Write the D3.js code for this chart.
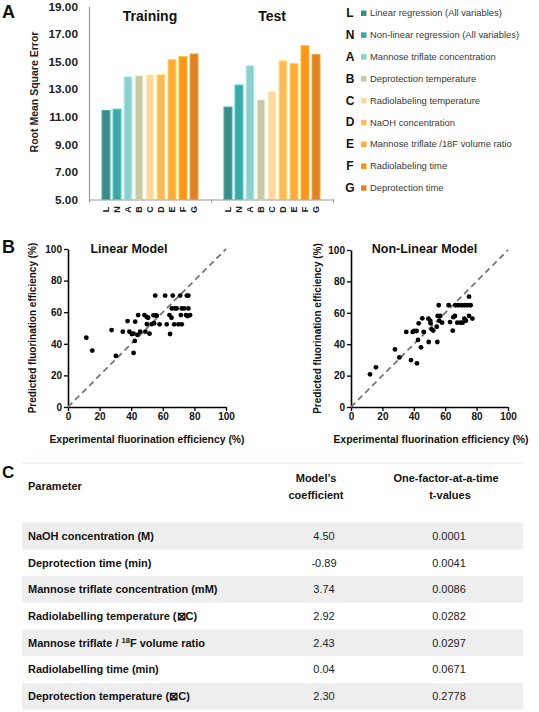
<!DOCTYPE html>
<html>
<head>
<meta charset="utf-8">
<script src="https://cdn.jsdelivr.net/npm/d3@7"></script>
<style>
  html, body { margin: 0; padding: 0; background: #fff; }
  svg { display: block; }
  text { font-family: "Liberation Sans", Arial, sans-serif; }
</style>
</head>
<body>
<script>
// ---------- Panel A data ----------
const barLetters = ["L", "N", "A", "B", "C", "D", "E", "F", "G"];
const legendLabels = [
  "Linear regression (All variables)",
  "Non-linear regression (All variables)",
  "Mannose triflate concentration",
  "Deprotection temperature",
  "Radiolabeling temperature",
  "NaOH concentration",
  "Mannose triflate /18F  volume ratio",
  "Radiolabeling time",
  "Deprotection time"
];
const groups = ["Training", "Test"];
const trainingRMSE = [11.45, 11.55, 13.9, 14.0, 14.05, 14.05, 15.15, 15.35, 15.55];
const testRMSE = [11.7, 13.3, 14.7, 12.25, 12.85, 15.05, 14.85, 16.15, 15.5];
const rmseTicks = [5, 7, 9, 11, 13, 15, 17, 19];
const barColors = ["#3b8b88", "#3ba9a6", "#8ecfcc", "#c8c9a9", "#fdd8a0", "#fdb95d", "#fdab3d", "#f8961e", "#dd8228"];

// ---------- Panel B data ----------
const pctTicks = [0, 20, 40, 60, 80, 100];
const linearExp = [11.6, 15.4, 27.6, 30.3, 34.7, 37.7, 38.9, 40.4, 41.5, 41.5, 42.3, 42.5, 44.4, 44, 45.7, 48.4, 49, 49.9, 49.9, 50.7, 51.6, 53, 54.1, 55.2, 54.5, 55.4, 56.2, 58, 61.5, 62.5, 64.2, 64.6, 65.5, 66.3, 65.7, 67.2, 67.8, 69.9, 68.8, 71, 71.4, 72, 72, 73.5, 74.7, 75.2, 76.2, 76.2, 75.6, 77.3];
const linearPred = [43.9, 35.7, 48.7, 32.3, 47.7, 54.4, 47.7, 46.2, 46.4, 34.2, 41.8, 54, 58.2, 45.6, 47.7, 58.2, 47.7, 52.5, 57, 56.5, 46.4, 52.5, 58, 70.5, 53, 58, 57.8, 52.3, 70.5, 52.3, 58.2, 46.2, 56.5, 70.5, 62.4, 52.3, 62.4, 52.3, 62.4, 70.5, 58.2, 52.3, 62.4, 62.4, 58.2, 70.5, 70.5, 62.4, 57.6, 58.2];
const nonLinearExp = [12.1, 15.9, 28, 30.8, 35.2, 38.2, 39.3, 40.3, 41.8, 42, 42.7, 43.1, 44.6, 45.4, 46.3, 49.3, 49.5, 50.5, 50.7, 51.4, 52.4, 54.6, 55, 55.2, 55.9, 56.9, 56.2, 58, 62.2, 63.1, 64.8, 65.2, 66.2, 66.5, 67.7, 68.4, 69.8, 70.5, 71.1, 72.2, 72.2, 73.2, 74.1, 75.2, 76.2, 77.3, 75.2];
const nonLinearPred = [20.8, 25.3, 36.7, 31.6, 47.8, 29.9, 47.8, 48.4, 48.4, 27.8, 42.7, 53.3, 38, 56.5, 47.8, 56.2, 41.4, 54.9, 53.3, 49.5, 48.7, 51.1, 41.4, 58, 64.8, 58, 54.9, 53.7, 64.8, 54.1, 48.6, 57.2, 58, 64.8, 53.7, 64.8, 53.7, 64.8, 53.7, 64.8, 56.3, 55, 64.8, 58, 64.8, 56.3, 70.3];

// ---------- Panel C data ----------
const tableParams = [
  "NaOH concentration (M)",
  "Deprotection time (min)",
  "Mannose triflate concentration (mM)",
  "Radiolabelling temperature (\u22A0C)",
  "Mannose triflate / |18|F volume ratio",
  "Radiolabelling time (min)",
  "Deprotection temperature (\u22A0C)"
];
const tableCoefficients = ["4.50", "-0.89", "3.74", "2.92", "2.43", "0.04", "2.30"];
const tableTValues = ["0.0001", "0.0041", "0.0086", "0.0282", "0.0297", "0.0671", "0.2778"];

const W = 539, H = 712;
const svg = d3.select("body").append("svg").attr("width", W).attr("height", H);
svg.append("rect").attr("width", W).attr("height", H).attr("fill", "#fff");

// ================= Panel A =================
const gA = svg.append("g");
gA.append("text").attr("x", 2).attr("y", 18).text("A")
  .attr("font-size", 18).attr("font-weight", "bold").attr("fill", "#111");

const yA = d3.scaleLinear().domain([5, 19]).range([199.5, 6.3]);
const xGroup = d3.scaleBand().domain(groups).range([89, 333]);
const xBar = d3.scaleBand().domain(barLetters).range([0, xGroup.bandwidth()])
  .paddingInner(0.27).paddingOuter(1.18);

const yAxisA = gA.append("g").attr("transform", "translate(89,0)")
  .call(d3.axisLeft(yA).tickValues(rmseTicks).tickFormat(d3.format(".2f")).tickSize(0).tickPadding(11));
yAxisA.select(".domain").attr("stroke", "#999").attr("stroke-width", 1.2);
yAxisA.selectAll("text").attr("font-family", "'DejaVu Sans', sans-serif")
  .attr("font-size", 11.8).attr("font-weight", "bold").attr("fill", "#222");

gA.append("text").attr("transform", "translate(38,92) rotate(-90)")
  .attr("text-anchor", "middle").attr("font-size", 10.5).attr("font-weight", "bold").attr("fill", "#222")
  .text("Root Mean Square Error");

const seriesByGroup = { "Training": trainingRMSE, "Test": testRMSE };
groups.forEach(g => {
  const gg = gA.append("g").attr("transform", `translate(${xGroup(g)},0)`);
  gg.selectAll("rect").data(barLetters).join("rect")
    .attr("x", d => xBar(d)).attr("width", xBar.bandwidth())
    .attr("y", (d, i) => yA(seriesByGroup[g][i]))
    .attr("height", (d, i) => yA(5) - yA(seriesByGroup[g][i]))
    .attr("fill", (d, i) => barColors[i])
    .attr("stroke", (d, i) => d3.color(barColors[i]).brighter(0.7))
    .attr("stroke-width", 1);
  const ax = gg.append("g").attr("transform", `translate(0,${yA(5)})`)
    .call(d3.axisBottom(xBar).tickSize(0).tickPadding(0));
  ax.select(".domain").remove();
  ax.selectAll("text")
    .attr("transform", "translate(0,10) rotate(-90)")
    .attr("dy", "0.35em").attr("y", 0)
    .attr("text-anchor", "middle")
    .attr("font-size", 9).attr("font-weight", "bold").attr("fill", "#222");
  gA.append("text").attr("x", xGroup(g) + xGroup.bandwidth() / 2).attr("y", 21)
    .attr("text-anchor", "middle").attr("font-size", 14).attr("font-weight", "bold").attr("fill", "#111")
    .text(g);
});
// baseline axis with group separator ticks
const xAxisA = gA.append("g").attr("transform", `translate(0,${yA(5)})`)
  .call(d3.axisBottom(d3.scaleLinear().domain([0, 2]).range([89, 333])).tickValues([1, 2]).tickSize(3).tickFormat(""));
xAxisA.select(".domain").attr("stroke", "#999").attr("stroke-width", 1.2);
xAxisA.selectAll("line").attr("stroke", "#999");

// legend
const legend = gA.append("g");
barLetters.forEach((l, i) => {
  const cy = 13 + i * 21.85;
  legend.append("text").attr("x", 350).attr("y", cy).attr("dy", "0.35em")
    .attr("text-anchor", "middle").attr("font-size", 12).attr("font-weight", "bold").attr("fill", "#111").text(l);
  legend.append("rect").attr("x", 361).attr("y", cy - 2.5).attr("width", 5.5).attr("height", 5.5)
    .attr("fill", barColors[i]);
  legend.append("text").attr("x", 370).attr("y", cy).attr("dy", "0.35em")
    .attr("font-family", "Lato, 'Open Sans', sans-serif")
    .attr("font-size", 9.4).attr("fill", "#383838").text(legendLabels[i]);
});

// ================= Panel B =================
svg.append("text").attr("x", 2).attr("y", 253).text("B")
  .attr("font-size", 18).attr("font-weight", "bold").attr("fill", "#111");

function scatter(x0, x1, yTop, title, titleX, ex, pr, yTitleX, xTitleX) {
  const g = svg.append("g");
  const xs = d3.scaleLinear().domain([0, 100]).range([x0, x1]);
  const ys = d3.scaleLinear().domain([0, 100]).range([407, yTop]);
  const ax = g.append("g").attr("transform", "translate(0,407)")
    .call(d3.axisBottom(xs).tickValues(pctTicks).tickSize(4).tickPadding(2).tickSizeOuter(0));
  const ay = g.append("g").attr("transform", `translate(${x0},0)`)
    .call(d3.axisLeft(ys).tickValues(pctTicks).tickSize(4).tickPadding(2).tickSizeOuter(0));
  [ax, ay].forEach(a => {
    a.select(".domain").attr("stroke", "#000").attr("stroke-width", 1.6);
    a.selectAll("line").attr("stroke", "#000").attr("stroke-width", 1.3);
    a.selectAll("text").attr("font-size", 10).attr("font-weight", "bold").attr("fill", "#111");
  });
  g.append("line").attr("x1", xs(0)).attr("y1", ys(0)).attr("x2", xs(100)).attr("y2", ys(100))
    .attr("stroke", "#777").attr("stroke-width", 1.8).attr("stroke-dasharray", "6,4");
  g.selectAll("circle").data(ex).join("circle")
    .attr("cx", d => xs(d)).attr("cy", (d, i) => ys(pr[i])).attr("r", 2.4).attr("fill", "#000");
  g.append("text").attr("x", titleX).attr("y", 253).attr("text-anchor", "middle")
    .attr("font-size", 12.5).attr("font-weight", "bold").attr("fill", "#111").text(title);
  g.append("text").attr("transform", `translate(${yTitleX},${(407 + yTop) / 2}) rotate(-90)`)
    .attr("text-anchor", "middle").attr("font-size", 10).attr("font-weight", "bold").attr("fill", "#111")
    .text("Predicted fluorination efficiency (%)");
  g.append("text").attr("x", xTitleX).attr("y", 443).attr("text-anchor", "middle")
    .attr("font-size", 10.4).attr("font-weight", "bold").attr("fill", "#111")
    .text("Experimental fluorination efficiency (%)");
}
scatter(68, 226, 249, "Linear Model", 129, linearExp, linearPred, 36, 147);
scatter(351, 508, 250, "Non-Linear Model", 424.5, nonLinearExp, nonLinearPred, 321, 431);

// ================= Panel C =================
svg.append("text").attr("x", 2).attr("y", 478).text("C")
  .attr("font-size", 17).attr("font-weight", "bold").attr("fill", "#111");
svg.append("line").attr("x1", 22).attr("x2", 523).attr("y1", 463).attr("y2", 463)
  .attr("stroke", "#e4ecef").attr("stroke-width", 1);

const colX = { param: 28, coef: 324, tval: 449 };
const hdr = svg.append("g").attr("font-size", 11).attr("font-weight", "bold").attr("fill", "#111");
hdr.append("text").attr("x", colX.param).attr("y", 490).text("Parameter");
hdr.append("text").attr("x", 316).attr("y", 481.5).attr("text-anchor", "middle").text("Model\u2019s");
hdr.append("text").attr("x", 316).attr("y", 499).attr("text-anchor", "middle").text("coefficient");
hdr.append("text").attr("x", 446).attr("y", 481.5).attr("text-anchor", "middle").text("One-factor-at-a-time");
hdr.append("text").attr("x", 450).attr("y", 499).attr("text-anchor", "middle").text("t-values");

const rowY = d3.scaleBand().domain(d3.range(tableParams.length)).range([522.7, 522.7 + 26.7 * tableParams.length]);
const rows = svg.append("g").selectAll("g").data(tableParams).join("g")
  .attr("transform", (d, i) => `translate(0,${rowY(i)})`);
rows.filter((d, i) => i % 2 === 0).append("rect")
  .attr("x", 22).attr("width", 501).attr("height", rowY.bandwidth()).attr("fill", "#eeeeee");
rows.append("text").attr("x", colX.param).attr("y", rowY.bandwidth() / 2).attr("dy", "0.35em")
  .attr("font-size", 11).attr("font-weight", "bold").attr("fill", "#111")
  .each(function (d) {
    const parts = d.split("|");
    const t = d3.select(this);
    parts.forEach((p, k) => {
      if (k === 1) {
        t.append("tspan").attr("font-size", 7.5).attr("baseline-shift", "super").text(p);
      } else {
        t.append("tspan").text(p);
      }
    });
  });
rows.append("text").attr("x", colX.coef).attr("y", rowY.bandwidth() / 2).attr("dy", "0.35em")
  .attr("text-anchor", "middle").attr("font-size", 11).attr("fill", "#222")
  .text((d, i) => tableCoefficients[i]);
rows.append("text").attr("x", colX.tval).attr("y", rowY.bandwidth() / 2).attr("dy", "0.35em")
  .attr("text-anchor", "middle").attr("font-size", 11).attr("fill", "#222")
  .text((d, i) => tableTValues[i]);
</script>
</body>
</html>
